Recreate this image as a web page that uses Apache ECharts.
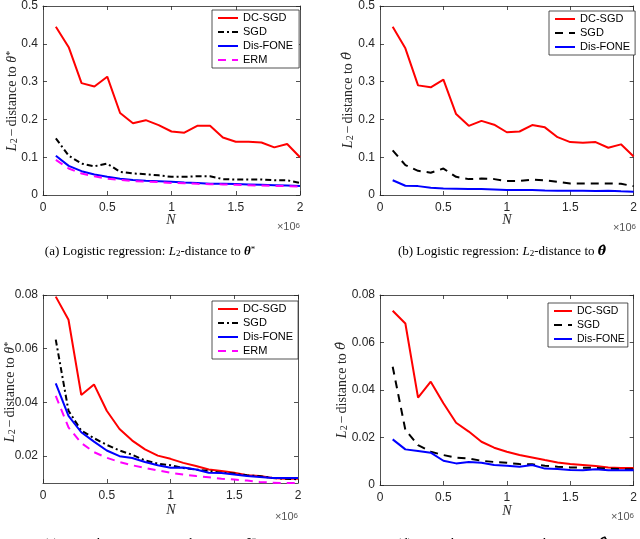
<!DOCTYPE html>
<html><head><meta charset="utf-8">
<script src="https://cdn.jsdelivr.net/npm/echarts@6/dist/echarts.min.js"></script>
<style>html,body{margin:0;padding:0;background:#fff}#c{width:640px;height:539px}</style>
</head><body><div id="c"></div>
<script>
// N values (x 10^6)
const nValues = [0.1,0.2,0.3,0.4,0.5,0.6,0.7,0.8,0.9,1.0,1.1,1.2,1.3,1.4,1.5,1.6,1.7,1.8,1.9,2.0];
// (a) logistic regression, distance to theta*
const aDC   = [0.445,0.391,0.296,0.287,0.313,0.217,0.190,0.198,0.185,0.168,0.165,0.183,0.183,0.152,0.141,0.141,0.139,0.126,0.135,0.100];
const aSGD  = [0.150,0.104,0.083,0.076,0.083,0.061,0.057,0.055,0.052,0.048,0.048,0.0495,0.0495,0.042,0.041,0.041,0.041,0.039,0.039,0.032];
const aFONE = [0.104,0.077,0.063,0.054,0.048,0.043,0.040,0.038,0.0365,0.035,0.033,0.032,0.030,0.0295,0.029,0.028,0.027,0.026,0.025,0.024];
const aERM  = [0.093,0.070,0.057,0.0495,0.043,0.040,0.037,0.0355,0.034,0.032,0.031,0.0295,0.0287,0.028,0.027,0.026,0.025,0.024,0.0235,0.0225];
// (b) logistic regression, distance to theta-hat
const bDC   = [0.445,0.388,0.290,0.285,0.305,0.214,0.183,0.196,0.186,0.166,0.168,0.185,0.179,0.153,0.140,0.138,0.140,0.125,0.134,0.102];
const bSGD  = [0.118,0.079,0.064,0.059,0.070,0.048,0.042,0.0435,0.042,0.037,0.037,0.041,0.039,0.035,0.0305,0.0305,0.0305,0.0305,0.0295,0.0235];
const bFONE = [0.039,0.0245,0.0235,0.019,0.0175,0.0166,0.0157,0.0157,0.0148,0.013,0.013,0.013,0.012,0.0113,0.0113,0.0113,0.0105,0.0113,0.0096,0.0087];
// (c) quantile regression, distance to theta*
const cDC   = [0.0794,0.0708,0.0428,0.0467,0.0369,0.0301,0.0258,0.0225,0.0202,0.019,0.0175,0.0163,0.015,0.0145,0.0138,0.0129,0.0126,0.0119,0.0116,0.0116];
const cSGD  = [0.0634,0.0369,0.0295,0.0267,0.0242,0.0221,0.0205,0.0184,0.0172,0.0166,0.0156,0.015,0.0145,0.0138,0.0135,0.0129,0.0125,0.0119,0.0116,0.0114];
const cFONE = [0.0471,0.035,0.0289,0.0254,0.0221,0.020,0.0193,0.0178,0.0166,0.0157,0.0158,0.015,0.0138,0.0137,0.0132,0.0126,0.0122,0.0119,0.0119,0.0119];
const cERM  = [0.0424,0.0307,0.0249,0.0215,0.0194,0.0178,0.0166,0.0156,0.0147,0.0138,0.0132,0.0126,0.0121,0.0116,0.0113,0.0109,0.0104,0.0101,0.0100,0.0100];
// (d) quantile regression, distance to theta-hat
const dDC   = [0.0734,0.068,0.0368,0.0435,0.0344,0.0262,0.0225,0.0182,0.0157,0.014,0.0126,0.0116,0.0105,0.0095,0.0088,0.0084,0.008,0.0074,0.0072,0.0072];
const dSGD  = [0.0498,0.0232,0.0168,0.014,0.0126,0.0115,0.0112,0.0102,0.0097,0.0094,0.0088,0.0087,0.0081,0.0077,0.0074,0.0073,0.0072,0.0069,0.0067,0.0066];
const dFONE = [0.0192,0.015,0.0143,0.0136,0.0102,0.0091,0.0097,0.0094,0.0084,0.0081,0.0077,0.0084,0.0069,0.0067,0.0063,0.0062,0.0066,0.0062,0.0062,0.0062];

const xTicks = [0,0.5,1,1.5,2];
const yTicksAB = [0,0.1,0.2,0.3,0.4,0.5];
const yTicksC = [0.02,0.04,0.06,0.08];
const yTicksD = [0,0.02,0.04,0.06,0.08];

const AX = '#262626';
const SANS = 'Liberation Sans, Arial, sans-serif';
const SERIF = 'Liberation Serif, DejaVu Serif, serif';
const DSERIF = 'DejaVu Serif, serif';

const yStar = '{i|L}{s|2}{m|−}distance to {i|θ}{p|*}';
const yHat  = '{i|L}{s|2}{m|−}distance to {h|θ̂}';

const panels = [
  {grid:{left:43,top:4,width:257,height:191}, ymin:0, ymax:0.5, yTicks:yTicksAB, yname:yStar, ny:[12,101],
   legend:{left:212,top:10,pad:6,iw:20,fs:11}, series:[['DC-SGD',aDC,'#ff0000','solid'],['SGD',aSGD,'#000000',[6,3,2,3]],['Dis-FONE',aFONE,'#0000ff','solid'],['ERM',aERM,'#ff00ff',[8,6]]]},
  {grid:{left:380,top:4,width:256,height:191}, ymin:0, ymax:0.5, yTicks:yTicksAB, yname:yHat, ny:[348,100],
   legend:{left:549,top:11,pad:5,iw:20,fs:11}, series:[['DC-SGD',bDC,'#ff0000','solid'],['SGD',bSGD,'#000000',[8,6]],['Dis-FONE',bFONE,'#0000ff','solid']]},
  {grid:{left:43,top:295,width:255,height:188}, ymin:0.01, ymax:0.08, yTicks:yTicksC, yname:yStar, ny:[10,392],
   legend:{left:212,top:301,pad:5,iw:20,fs:11}, series:[['DC-SGD',cDC,'#ff0000','solid'],['SGD',cSGD,'#000000',[6,3,2,3]],['Dis-FONE',cFONE,'#0000ff','solid'],['ERM',cERM,'#ff00ff',[8,6]]]},
  {grid:{left:380,top:295,width:254,height:190}, ymin:0, ymax:0.08, yTicks:yTicksD, yname:yHat, ny:[342,390],
   legend:{left:548,top:303,pad:3,iw:18,fs:10.5}, series:[['DC-SGD',dDC,'#ff0000','solid'],['SGD',dSGD,'#000000',[8,6]],['Dis-FONE',dFONE,'#0000ff','solid']]}
];

const grids=[], xAxes=[], yAxes=[], series=[], legends=[], graphics=[];
const tickStyle = {color:AX,width:0.8};
panels.forEach((p,gi)=>{
  grids.push(Object.assign({containLabel:false}, p.grid));
  const xi = xAxes.length;
  xAxes.push({type:'value', gridIndex:gi, min:0, max:2, position:'bottom',
    axisLine:{onZero:false, lineStyle:tickStyle},
    axisTick:{inside:true,length:4,customValues:xTicks,lineStyle:tickStyle},
    axisLabel:{customValues:xTicks,color:AX,fontFamily:SANS,fontSize:12,margin:7},
    splitLine:{show:false}});
  xAxes.push({type:'value', gridIndex:gi, min:0, max:2, position:'top',
    axisLine:{onZero:false, lineStyle:tickStyle},
    axisTick:{inside:true,length:4,customValues:xTicks,lineStyle:tickStyle},
    axisLabel:{show:false}, splitLine:{show:false}});
  const yi = yAxes.length;
  yAxes.push({type:'value', gridIndex:gi, min:p.ymin, max:p.ymax, position:'left',
    axisLine:{onZero:false, lineStyle:tickStyle},
    axisTick:{inside:true,length:4,customValues:p.yTicks,lineStyle:tickStyle},
    axisLabel:{customValues:p.yTicks,color:AX,fontFamily:SANS,fontSize:12,margin:5},
    splitLine:{show:false}});
  yAxes.push({type:'value', gridIndex:gi, min:p.ymin, max:p.ymax, position:'right',
    axisLine:{onZero:false, lineStyle:tickStyle},
    axisTick:{inside:true,length:4,customValues:p.yTicks,lineStyle:tickStyle},
    axisLabel:{show:false}, splitLine:{show:false}});
  const names=[];
  p.series.forEach(s=>{
    const nm = gi+':'+s[0];
    names.push(nm);
    series.push({type:'line', name:nm, xAxisIndex:xi, yAxisIndex:yi, symbol:'none', animation:false,
      lineStyle:{color:s[2], width:2, type:s[3]}, itemStyle:{color:s[2]},
      data: nValues.map((x,i)=>[x, s[1][i]])});
  });
  const L = p.legend;
  legends.push({data:names, orient:'vertical', left:L.left, top:L.top,
    backgroundColor:'#fff', borderColor:AX, borderWidth:0.8, padding:[1,L.pad,1,5],
    itemWidth:L.iw, itemHeight:10, itemGap:0, selectedMode:false,
    itemStyle:{color:'rgba(0,0,0,0)', borderWidth:0, opacity:0},
    textStyle:{fontFamily:SANS,fontSize:L.fs,color:'#000',lineHeight:14},
    formatter:n=>n.split(':')[1]});
  // rotated y-axis title
  graphics.push({type:'text', x:p.ny[0], y:p.ny[1], rotation:Math.PI/2,
    style:{text:p.yname, font:'14px '+SERIF, fill:AX, textAlign:'center', textVerticalAlign:'middle',
      rich:{i:{fontFamily:SERIF,fontStyle:'italic',fontSize:14,fill:AX},
            s:{fontFamily:SERIF,fontSize:10,fill:AX,verticalAlign:'bottom'},
            p:{fontFamily:SERIF,fontSize:10,fill:AX,verticalAlign:'top'},
            m:{fontFamily:SERIF,fontSize:14,fill:AX,padding:[0,2,0,2]},
            h:{fontFamily:DSERIF,fontStyle:'italic',fontSize:13,fill:AX}}}});
});

function txt(x,y,t,font,align){graphics.push({type:'text',x:x,y:y,style:{text:t,font:font,fill:AX,textAlign:align||'center',textVerticalAlign:'middle'}});}
// N labels
[[171,220],[507,220],[171,510],[507,511]].forEach(q=>txt(q[0],q[1],'N','italic 14px '+SERIF));
// x10^6
function exp(x,y){graphics.push({type:'text',x:x,y:y,style:{text:'×10{s|6}',font:'11px '+SANS,fill:'#555',textAlign:'right',textVerticalAlign:'middle',rich:{s:{fontSize:8,verticalAlign:'top',fill:'#555',fontFamily:SANS}}}});}
exp(300,227); exp(636,228); exp(298,517); exp(634,517);
// captions
const capRich = {i:{fontStyle:'italic',fontFamily:SERIF,fontSize:13},
                 s:{fontFamily:SERIF,fontSize:9,verticalAlign:'bottom'},
                 p:{fontFamily:SERIF,fontSize:9,verticalAlign:'top'},
                 b:{fontStyle:'italic',fontWeight:'bold',fontFamily:SERIF,fontSize:13},
                 h:{fontStyle:'italic',fontWeight:'bold',fontFamily:DSERIF,fontSize:12.5}};
function cap(x,y,t){graphics.push({type:'text',x:x,y:y,style:{text:t,font:'13px '+SERIF,fill:'#000',textAlign:'center',textVerticalAlign:'middle',rich:capRich}});}
cap(150,252,'(a) Logistic regression: {i|L}{s|2}-distance to {b|θ}{p|*}');
cap(502,252,'(b) Logistic regression: {i|L}{s|2}-distance to {h|θ̂}');
cap(150,544,'(c) Quantile regression: {i|L}{s|2}-distance to {b|θ}{p|*}');
cap(502,544,'(d) Quantile regression: {i|L}{s|2}-distance to {h|θ̂}');

const chart = echarts.init(document.getElementById('c'), null, {renderer:'canvas'});
chart.setOption({backgroundColor:'#fff', animation:false, grid:grids, xAxis:xAxes, yAxis:yAxes, legend:legends, series:series, graphic:graphics});
</script></body></html>
